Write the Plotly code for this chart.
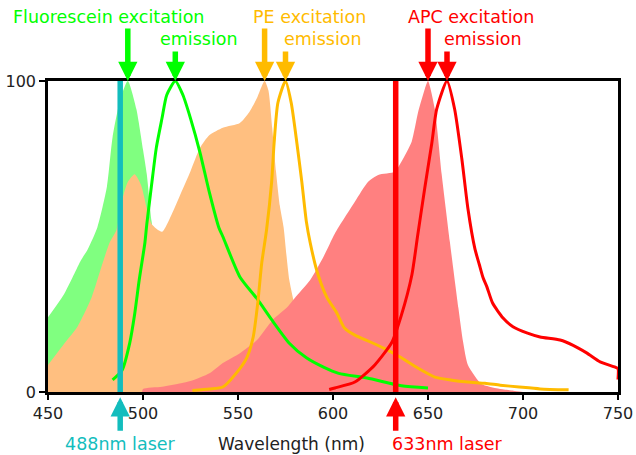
import plotly.graph_objects as go

# ---------------- data (wavelength nm, relative intensity %) ----------------
fitc_ex_wl = [450, 458, 463, 467, 471, 476, 481, 484, 488, 492, 496.5, 500, 502, 504.5, 508, 512, 516, 520, 530, 540]
fitc_ex_val = [24, 31, 37, 42, 46, 53, 66, 82, 94, 100, 91, 78, 70, 55, 42, 28, 16, 8, 2, 0]

pe_ex_wl = [450, 458.7, 465.5, 473, 478, 482.4, 486, 488.7, 492, 495.6, 499, 502, 504.5, 510, 515, 520,
            525, 530, 535, 542, 551, 556, 560, 564, 566, 568, 570, 572, 574, 575.5, 577, 579,
            581, 584, 588, 595, 605, 620]
pe_ex_val = [8.7, 15.7, 21, 30.5, 40, 48, 52, 61, 67.5, 70, 66.5, 59, 54, 51.5, 57, 64,
             71, 78.5, 82.6, 85, 86.5, 90, 94.5, 100, 97, 85, 71, 60, 53, 44, 36, 30,
             24, 15, 8, 3, 1, 0]

apc_ex_wl = [499.5, 500, 510, 520, 525, 535, 542, 551, 560, 568, 576, 581, 588, 595, 601, 611.5, 618.5,
             623.8, 632.6, 636, 641.4, 644.8, 648.4, 650, 653.6, 657.2, 661.5, 666, 668.5, 671,
             678, 682, 686, 690, 695, 700]
apc_ex_val = [0, 1, 1.7, 2.8, 3.5, 6, 9.3, 12.5, 16.7, 23, 27.3, 31, 36, 43.5, 51, 61.2, 67.6,
              69.8, 70.8, 74, 80.5, 90, 97.6, 100, 91, 70, 48.3, 27, 16, 8.7,
              2.6, 1.8, 1.2, 0.8, 0.4, 0]

fitc_em_wl = [484, 489, 493, 495.6, 498, 501, 502, 504.5, 507, 510, 512.5, 517, 521, 525, 530, 535, 540,
              542, 551, 560, 568, 577, 586, 595, 603, 618, 636, 650]
fitc_em_val = [3.9, 7, 15.7, 25, 36, 48, 54, 66.5, 78.5, 88, 95.5, 100, 95.5, 88, 77, 64, 52.7,
               50, 37, 30, 23, 15.7, 11, 8, 6, 4.5, 2, 1.3]

pe_em_wl = [526, 535, 542, 549, 554.6, 558, 560.4, 562.5, 565, 567.7, 569, 571, 575, 578, 581, 583.6,
            586, 588, 591.5, 596.7, 602, 606, 611.5, 620, 627, 636, 644.6, 653.6, 662.6, 671,
            680, 688, 698, 709, 724]
pe_em_val = [0.5, 1, 1.6, 6, 11, 17.7, 28.6, 41.5, 52, 67.5, 80, 93, 100, 93, 80, 67.5,
             54.7, 48, 39, 30.5, 25.4, 20.6, 18.3, 16, 14, 11, 7.7, 4.8, 3.8, 3.2,
             2.8, 2.2, 1.6, 1, 0.7]

apc_em_wl = [598, 601, 611.5, 622, 631, 636, 641.5, 644.6, 648.3, 652, 654.6, 660, 664, 667.8, 671,
             674.7, 677, 679, 681, 684, 689.5, 694.7, 702, 709, 719.5, 726.4, 733.7, 740.6,
             748.5, 750, 750]
apc_em_val = [0.8, 1.3, 3.2, 8.7, 16, 24.7, 37.6, 50.5, 65.6, 80, 91, 100, 91, 75, 59,
              46, 41, 36.7, 33.8, 28.6, 23.8, 21, 19, 17.7, 16.7, 15, 12.5, 9.7,
              8, 7.5, 4]

laser_wl = [488, 633]
laser_labels = ["488nm laser", "633nm laser"]
x_title = "Wavelength (nm)"

x_ticks = [450, 500, 550, 600, 650, 700, 750]
y_ticks = [0, 100]

# ---------------- style ----------------
GREEN, GREEN_FILL = "#00ff00", "#80ff80"
ORANGE, ORANGE_FILL = "#ffbb00", "#ffbf80"
RED, RED_FILL = "#ff0000", "#ff8080"
CYAN = "#13bdbd"
FONT = "DejaVu Sans"
TXT = 17.5

fig = go.Figure()


def add_fill(wl, val, color):
    fig.add_trace(go.Scatter(x=wl, y=val, mode="lines",
                             line=dict(width=0, color=color, shape="spline", smoothing=0.6),
                             fill="tozeroy", fillcolor=color, hoverinfo="skip", showlegend=False))


def add_line(wl, val, color, width=3, smooth=True):
    line = dict(width=width, color=color)
    if smooth:
        line.update(shape="spline", smoothing=0.6)
    fig.add_trace(go.Scatter(x=wl, y=val, mode="lines", line=line,
                             hoverinfo="skip", showlegend=False))


add_fill(fitc_ex_wl, fitc_ex_val, GREEN_FILL)
add_fill(pe_ex_wl, pe_ex_val, ORANGE_FILL)
add_fill(apc_ex_wl, apc_ex_val, RED_FILL)
add_line(fitc_em_wl, fitc_em_val, GREEN)
add_line(pe_em_wl, pe_em_val, ORANGE)
add_line(apc_em_wl, apc_em_val, RED)
for wl, col in zip(laser_wl, [CYAN, RED]):
    add_line([wl, wl], [0, 100], col, width=5.5, smooth=False)


def peak(wl, val):
    return wl[val.index(max(val))]


annotations = []
# top arrows + labels: (series, color, excitation?, text, text xshift)
tops = [
    (fitc_ex_wl, fitc_ex_val, GREEN, True, "Fluorescein excitation", -117),
    (fitc_em_wl, fitc_em_val, GREEN, False, "emission", -17),
    (pe_ex_wl, pe_ex_val, ORANGE, True, "PE excitation", -14),
    (pe_em_wl, pe_em_val, ORANGE, False, "emission", -4),
    (apc_ex_wl, apc_ex_val, RED, True, "APC excitation", -22),
    (apc_em_wl, apc_em_val, RED, False, "emission", -5),
]
for wl, val, col, is_ex, txt, shift in tops:
    p = peak(wl, val)
    annotations.append(dict(x=p, y=100, xref="x", yref="y", text="", showarrow=True,
                            ax=0, ay=-54 if is_ex else -31, arrowhead=2, arrowwidth=5.5,
                            arrowsize=0.7, arrowcolor=col, standoff=0))
    annotations.append(dict(x=p, y=1.206 if is_ex else 1.135, xref="x", yref="paper", text=txt,
                            showarrow=False, xanchor="left", yanchor="middle", xshift=shift,
                            font=dict(family=FONT, size=TXT, color=col)))

# bottom laser arrows + labels
for wl, lab, col, anchor, shift in zip(laser_wl, laser_labels, [CYAN, RED], ["center", "left"], [0, -6]):
    annotations.append(dict(x=wl, y=-0.017, xref="x", yref="paper", text="", showarrow=True,
                            ax=0, ay=35, arrowhead=2, arrowwidth=5.5, arrowsize=0.7,
                            arrowcolor=col, standoff=0))
    annotations.append(dict(x=wl, y=-0.167, xref="x", yref="paper", text=lab, showarrow=False,
                            xanchor=anchor, yanchor="middle", xshift=shift,
                            font=dict(family=FONT, size=TXT, color=col)))

annotations.append(dict(x=578, y=-0.167, xref="x", yref="paper", text=x_title,
                        showarrow=False, xanchor="center", yanchor="middle",
                        font=dict(family=FONT, size=17, color="#222222")))

fig.update_layout(
    width=636, height=455,
    margin=dict(l=48, r=18, t=81, b=63),
    paper_bgcolor="white", plot_bgcolor="white",
    font=dict(family=FONT, size=16, color="#222222"),
    annotations=annotations,
    showlegend=False,
)
fig.update_xaxes(range=[450, 750], tickvals=x_ticks, ticks="outside", ticklen=5, tickwidth=1.5,
                 tickcolor="black", showline=True, linecolor="black", linewidth=2.5, mirror=True,
                 showgrid=False, zeroline=False, tickfont=dict(size=16), automargin=False)
fig.update_yaxes(range=[0, 100], tickvals=y_ticks, ticks="outside", ticklen=6, tickwidth=1.5,
                 tickcolor="black", showline=True, linecolor="black", linewidth=2.5, mirror=True,
                 showgrid=False, zeroline=False, tickfont=dict(size=16), automargin=False)

fig.write_html("out.html")
